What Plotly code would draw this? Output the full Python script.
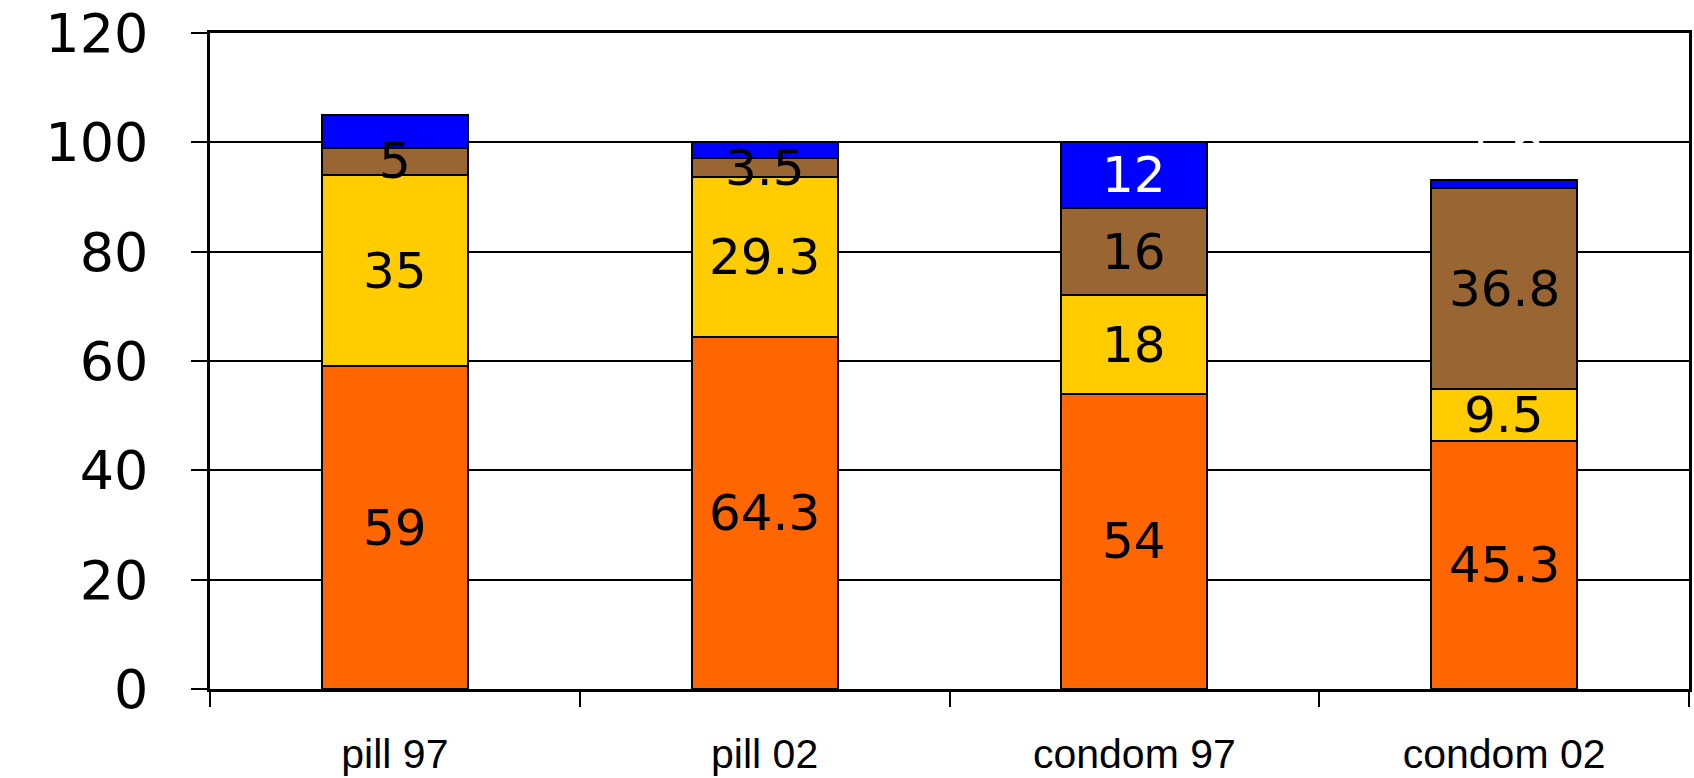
import plotly.graph_objects as go

categories = ["pill 97", "pill 02", "condom 97", "condom 02"]
orange_vals = [59, 64.3, 54, 45.3]
yellow_vals = [35, 29.3, 18, 9.5]
brown_vals = [5, 3.5, 16, 36.8]
blue_vals = [6, 2.9, 12, 1.6]
y_ticks = [0, 20, 40, 60, 80, 100, 120]

series = [
    (orange_vals, "#FF6600", "black"),
    (yellow_vals, "#FFCC00", "black"),
    (brown_vals, "#996633", "black"),
    (blue_vals, "#0000FF", "white"),
]

fig = go.Figure()
base = [0] * len(categories)
annotations = []
for vals, color, tcolor in series:
    fig.add_trace(go.Bar(
        x=categories, y=vals, marker=dict(color=color, line=dict(color="black", width=2)),
        width=0.395, showlegend=False, hoverinfo="skip",
    ))
    for i, v in enumerate(vals):
        yc = base[i] + v / 2
        if tcolor == "white" and v < 10:
            yc += 7.5
        annotations.append(dict(
            x=categories[i], y=yc, text=f"{v:g}", showarrow=False,
            font=dict(family="DejaVu Sans", size=50, color=tcolor),
            xanchor="center", yanchor="middle",
        ))
        base[i] += v

fig.update_layout(
    barmode="stack",
    width=1694, height=778,
    margin=dict(l=210, r=5, t=33, b=89),
    plot_bgcolor="white", paper_bgcolor="white",
    annotations=annotations,
    xaxis=dict(
        type="category", tickson="boundaries", ticks="outside", ticklen=15, tickwidth=2,
        tickcolor="black", showline=True, linecolor="black", linewidth=2.5, mirror=True,
        showgrid=False, automargin=False,
        tickfont=dict(family="Liberation Sans", size=41, color="black"),
        ticklabelstandoff=27,
    ),
    yaxis=dict(
        range=[0, 120], tickvals=y_ticks, ticks="outside", ticklen=16, tickwidth=2,
        tickcolor="black", showline=True, linecolor="black", linewidth=2.5, mirror=True,
        showgrid=True, gridcolor="black", gridwidth=1.5, zeroline=False, automargin=False,
        tickfont=dict(family="DejaVu Sans", size=54, color="black"),
        ticklabelstandoff=32, ticklabeloverflow="allow",
    ),
)

fig.write_html(
    "out.html",
    config={"displayModeBar": False},
    post_script="document.body.style.margin='0';document.body.style.overflow='hidden';",
)
